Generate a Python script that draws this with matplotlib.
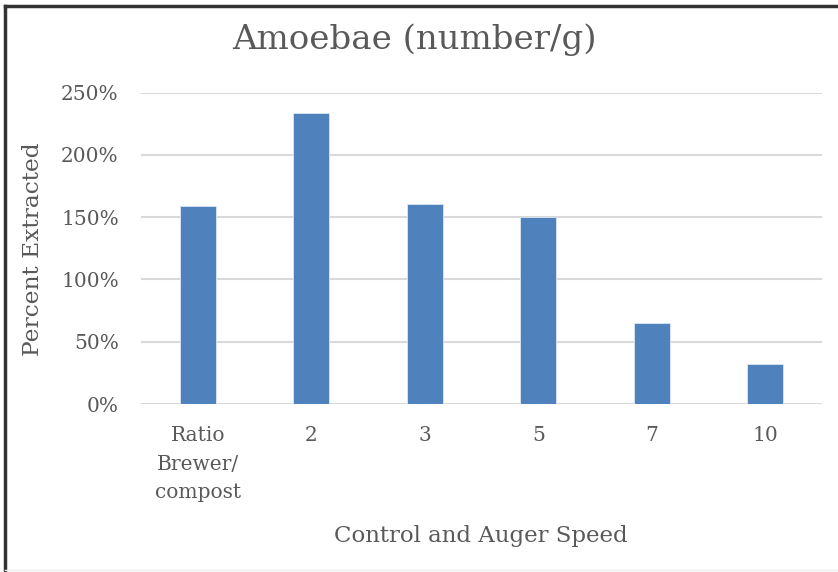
import matplotlib.pyplot as plt
from matplotlib.lines import Line2D
from matplotlib.ticker import FuncFormatter

CATEGORIES = ['Ratio\nBrewer/\ncompost', '2', '3', '5', '7', '10']
PERCENT_EXTRACTED = [1.59, 2.34, 1.61, 1.50, 0.65, 0.32]
Y_TICKS = [0, 0.5, 1.0, 1.5, 2.0, 2.5]

TEXT_COLOR = '#595959'
BAR_COLOR = '#4F81BD'
GRID_COLOR = '#D9D9D9'

plt.rcParams['font.family'] = ['DejaVu Serif']

fig = plt.figure(figsize=(8.38, 5.72), dpi=100)
ax = fig.add_axes([141 / 838, 1 - 404 / 572, 681 / 838, 311.3 / 572])

x = range(len(CATEGORIES))
ax.bar(x, PERCENT_EXTRACTED, width=0.32, color=BAR_COLOR,
       edgecolor='#DCE6F2', linewidth=0.6, zorder=3)

ax.set_xlim(-0.5, len(CATEGORIES) - 0.5)
ax.set_ylim(0, 2.5)
ax.set_yticks(Y_TICKS)
ax.yaxis.set_major_formatter(FuncFormatter(lambda v, _: f'{v * 100:.0f}%'))
ax.set_xticks(list(x))
ax.set_xticklabels(CATEGORIES, linespacing=1.64)

ax.grid(axis='y', color=GRID_COLOR, linewidth=1.5, zorder=0)
for side in ['top', 'right', 'left', 'bottom']:
    ax.spines[side].set_visible(False)
ax.tick_params(axis='both', length=0, labelsize=14.5, colors=TEXT_COLOR)
ax.tick_params(axis='y', pad=16)
ax.tick_params(axis='x', pad=16)

fig.text(414 / 838, 1 - 40 / 572, 'Amoebae (number/g)', ha='center', va='center',
         fontsize=24.5, color=TEXT_COLOR)
fig.text(481 / 838, 1 - 536 / 572, 'Control and Auger Speed', ha='center', va='center',
         fontsize=16.5, color=TEXT_COLOR)
fig.text(33 / 838, 1 - 249 / 572, 'Percent Extracted', ha='center', va='center',
         rotation=90, fontsize=16.8, color=TEXT_COLOR)

# outer frame (dark left/top, faint bottom)
fig.add_artist(Line2D([5 / 838, 5 / 838], [0, 1 - 6 / 572], color='#333333', linewidth=2.5))
fig.add_artist(Line2D([5 / 838, 1], [1 - 6 / 572, 1 - 6 / 572], color='#333333', linewidth=2.5))
fig.add_artist(Line2D([5 / 838, 1], [1 - 570 / 572, 1 - 570 / 572], color='#EEEEEE', linewidth=1))

fig.savefig('out.png', dpi=100)
